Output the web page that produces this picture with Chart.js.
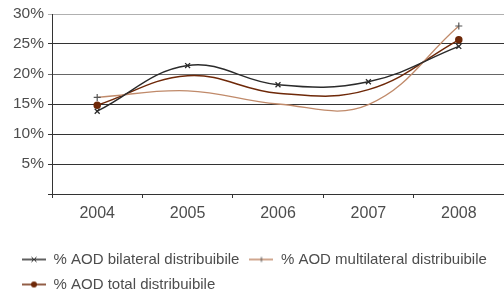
<!DOCTYPE html>
<html lang="it">
<head>
<meta charset="UTF-8">
<title>AOD distribuibile</title>
<style>
  body { margin: 0; background: #fff; }
  #wrap { width: 504px; height: 291px; }
</style>
</head>
<body>
<div id="wrap"><canvas id="myChart"></canvas></div>
<script src="https://cdn.jsdelivr.net/npm/chart.js@4.4.0/dist/chart.umd.min.js"></script>
<script>
// data
const years = ['2004', '2005', '2006', '2007', '2008'];
const bilateral = [13.8, 21.4, 18.2, 18.7, 24.6];
const multilateral = [16.1, 17.2, 15.0, 14.9, 28.0];
const total = [14.8, 19.7, 16.8, 17.4, 25.7];
const yTicks = [0, 5, 10, 15, 20, 25, 30];

const cBil = '#2b2b2b';
const cMul = '#c08a6a';
const cTot = '#6e2808';
const textCol = '#4d4d4d';

// little line + marker picture for the legend
function legendIcon(color, marker) {
    var c = document.createElement('canvas');
    c.width = 24; c.height = 10;
    var g = c.getContext('2d');
    g.strokeStyle = color;
    g.fillStyle = color;
    g.lineWidth = 1.5;
    g.beginPath(); g.moveTo(0, 5); g.lineTo(24, 5); g.stroke();
    g.lineWidth = 1;
    if (marker == 'x') {
        g.beginPath();
        g.moveTo(9.5, 2.5); g.lineTo(14.5, 7.5);
        g.moveTo(14.5, 2.5); g.lineTo(9.5, 7.5);
        g.stroke();
    } else if (marker == '+') {
        g.strokeStyle = '#555';
        g.beginPath();
        g.moveTo(12, 2.5); g.lineTo(12, 7.5);
        g.stroke();
    } else {
        g.beginPath(); g.arc(12, 5, 3, 0, Math.PI * 2); g.fill();
    }
    return c;
}
const icons = [legendIcon(cBil, 'x'), legendIcon(cMul, '+'), legendIcon(cTot, 'o')];

const config = {
    type: 'line',
    data: {
        labels: years,
        datasets: [{
            label: '% AOD bilateral distribuibile',
            data: bilateral,
            borderColor: cBil,
            backgroundColor: cBil,
            borderWidth: 1.5,
            pointStyle: 'crossRot',
            pointRadius: 3.5,
            pointBorderWidth: 1.3,
            tension: 0.4
        }, {
            label: '% AOD multilateral distribuibile',
            data: multilateral,
            borderColor: cMul,
            backgroundColor: cMul,
            borderWidth: 1.3,
            pointStyle: 'cross',
            pointRadius: [3.5, 0, 0, 0, 3.5],
            pointBorderWidth: 1.2,
            pointBorderColor: '#555',
            tension: 0.4
        }, {
            label: '% AOD total distribuibile',
            data: total,
            borderColor: cTot,
            backgroundColor: cTot,
            borderWidth: 1.5,
            pointStyle: 'circle',
            pointRadius: [3, 0, 0, 0, 3],
            tension: 0.4
        }]
    },
    options: {
        responsive: true,
        maintainAspectRatio: false,
        animation: false,
        layout: { autoPadding: false, padding: { left: 12, right: 0, top: 14, bottom: -11 } },
        scales: {
            x: {
                offset: true,
                grid: { offset: true, drawOnChartArea: false, drawTicks: true, tickLength: 4, color: '#333' },
                border: { color: '#333', width: 1 },
                ticks: { color: textCol, font: { family: 'Liberation Sans', size: 16 }, padding: 6 },
                afterFit: function(scale) {
                    scale.height = 48;
                    scale.paddingLeft = 0;
                    scale.paddingRight = 0;
                }
            },
            y: {
                min: 0,
                max: 30,
                afterBuildTicks: function(scale) { scale.ticks = yTicks.map(v => ({ value: v })); },
                grid: {
                    color: function(ctx) {
                        if (!ctx.tick) return '#333';
                        if (ctx.tick.value == 30) return '#b0b0b0';
                        if (ctx.tick.value == 20) return '#666';
                        return '#333';
                    },
                    lineWidth: 1,
                    tickLength: 4
                },
                border: { color: '#333', width: 1 },
                ticks: {
                    color: textCol,
                    font: { family: 'Liberation Sans', size: 15.5 },
                    padding: 4,
                    callback: function(v) { return v == 0 ? '' : v + '%'; }
                },
                afterFit: function(scale) { scale.width = 40; }
            }
        },
        plugins: {
            legend: {
                position: 'bottom',
                align: 'start',
                labels: {
                    usePointStyle: true,
                    pointStyleWidth: 24,
                    padding: 10,
                    color: textCol,
                    font: { family: 'Liberation Sans', size: 15 },
                    generateLabels: function(chart) {
                        return chart.data.datasets.map(function(ds, i) {
                            return {
                                text: ds.label,
                                pointStyle: icons[i],
                                fillStyle: ds.borderColor,
                                strokeStyle: ds.borderColor,
                                lineWidth: 0,
                                fontColor: textCol,
                                hidden: false,
                                datasetIndex: i
                            };
                        });
                    }
                }
            },
            tooltip: { enabled: false }
        }
    }
};

new Chart(document.getElementById('myChart'), config);
</script>
</body>
</html>
